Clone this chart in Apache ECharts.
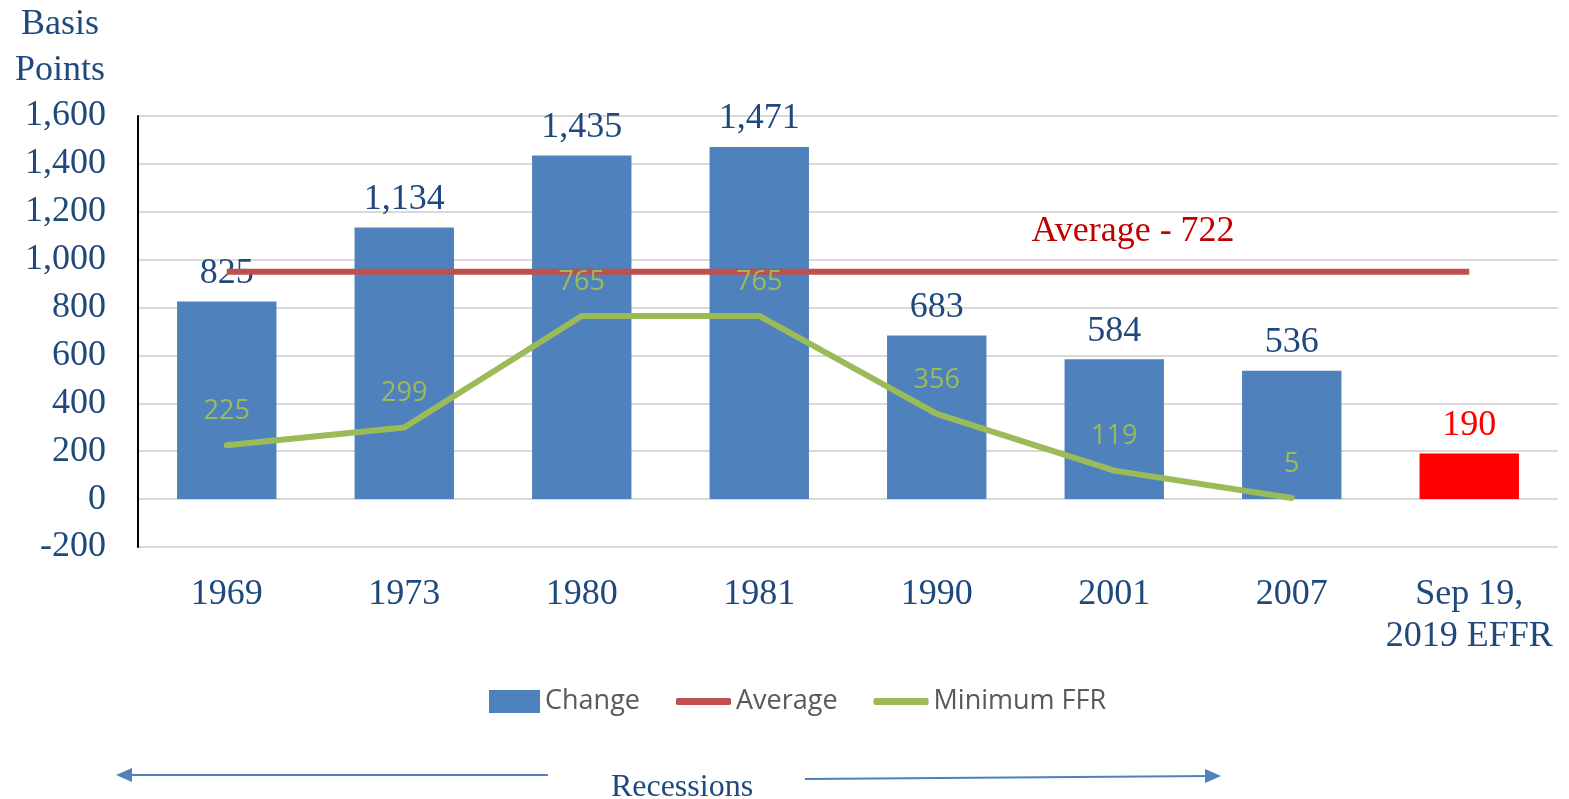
<!DOCTYPE html>
<html>
<head>
<meta charset="utf-8">
<script src="https://cdn.jsdelivr.net/npm/echarts@6/dist/echarts.min.js"></script>
<style>
  html, body { margin: 0; padding: 0; background: #fff; }
  #chart { width: 1569px; height: 799px; }
</style>
</head>
<body>
<div id="chart"></div>
<script>
// data
const categories = ['1969', '1973', '1980', '1981', '1990', '2001', '2007', 'Sep 19,\n2019 EFFR']
const changeValues = [825, 1134, 1435, 1471, 683, 584, 536, 190]
const averageValues = [950, 950, 950, 950, 950, 950, 950, 950]
const minimumFfr = [225, 299, 765, 765, 356, 119, 5, '-']
const yTicks = [-200, 0, 200, 400, 600, 800, 1000, 1200, 1400, 1600]

const navy = '#1F497D'
const serif = '"Liberation Serif", "Times New Roman", serif'
const sans = '"Open Sans", "Noto Sans", sans-serif'

const chart = echarts.init(document.getElementById('chart'))

const changeData = changeValues.map((v, i) => {
  const last = i === changeValues.length - 1
  return {
    value: v,
    itemStyle: {color: last ? '#FF0000' : '#4F81BD'},
    label: {color: last ? '#FF0000' : navy}
  }
})

const option = {
  animation: false,
  grid: {
    left: 138,
    right: 11,
    top: 116,
    bottom: 252,
    containLabel: false
  },
  legend: [
    {
      left: 489,
      top: 688,
      padding: 0,
      itemWidth: 51,
      itemHeight: 23,
      textStyle: {fontFamily: sans, fontSize: 27, color: '#595959'},
      data: [{name: 'Change', icon: 'rect'}]
    },
    {
      left: 676,
      top: 688,
      padding: 0,
      itemWidth: 55,
      itemHeight: 7,
      itemGap: 36,
      textStyle: {fontFamily: sans, fontSize: 27, color: '#595959'},
      data: [{name: 'Average', icon: 'roundRect'}, {name: 'Minimum FFR', icon: 'roundRect'}]
    }
  ],
  xAxis: {
    type: 'category',
    data: categories,
    axisLine: {show: false},
    axisTick: {show: false},
    axisLabel: {
      interval: 0,
      margin: 27,
      fontFamily: serif,
      fontSize: 36,
      lineHeight: 42,
      color: navy
    }
  },
  yAxis: {
    type: 'value',
    min: yTicks[0],
    max: yTicks[yTicks.length - 1],
    interval: 200,
    axisLine: {show: true, lineStyle: {color: '#000', width: 2}},
    axisTick: {show: false},
    splitLine: {lineStyle: {color: '#D9D9D9', width: 2}},
    axisLabel: {
      margin: 32,
      padding: [5, 0, 0, 0],
      fontFamily: serif,
      fontSize: 36,
      color: navy,
      formatter: (v) => v.toLocaleString('en-US')
    }
  },
  graphic: [
    {
      type: 'text',
      style: {
        text: 'Basis\nPoints',
        x: 60,
        y: 2,
        align: 'center',
        font: '36px ' + serif,
        lineHeight: 46,
        fill: navy
      }
    },
    {
      type: 'text',
      style: {
        text: 'Average - 722',
        x: 1133,
        y: 232,
        align: 'center',
        verticalAlign: 'middle',
        font: '36px ' + serif,
        fill: '#C00000'
      }
    },
    {
      type: 'text',
      style: {
        text: 'Recessions',
        x: 682,
        y: 788,
        align: 'center',
        verticalAlign: 'middle',
        font: '32px ' + serif,
        fill: navy
      }
    },
    {
      type: 'line',
      shape: {x1: 548, y1: 775, x2: 124, y2: 775},
      style: {stroke: '#4F81BD', lineWidth: 2}
    },
    {
      type: 'polygon',
      shape: {points: [[116, 775], [132, 768], [132, 782]]},
      style: {fill: '#4F81BD'}
    },
    {
      type: 'line',
      shape: {x1: 805, y1: 779, x2: 1212, y2: 776},
      style: {stroke: '#4F81BD', lineWidth: 2}
    },
    {
      type: 'polygon',
      shape: {points: [[1221, 776], [1205, 769], [1205, 783]]},
      style: {fill: '#4F81BD'}
    }
  ],
  series: [
    {
      name: 'Change',
      type: 'bar',
      data: changeData,
      barWidth: '56%',
      itemStyle: {color: '#4F81BD'},
      label: {
        show: true,
        position: 'top',
        distance: 10,
        fontFamily: serif,
        fontSize: 36,
        formatter: (p) => p.value.toLocaleString('en-US')
      },
      z: 1
    },
    {
      name: 'Average',
      type: 'line',
      data: averageValues,
      showSymbol: false,
      symbol: 'none',
      itemStyle: {color: '#C0504D'},
      lineStyle: {color: '#C0504D', width: 6},
      z: 3
    },
    {
      name: 'Minimum FFR',
      type: 'line',
      data: minimumFfr,
      symbol: 'circle',
      symbolSize: 1,
      itemStyle: {color: '#9BBB59'},
      lineStyle: {color: '#9BBB59', width: 6, cap: 'round'},
      label: {
        show: true,
        position: 'top',
        distance: 20,
        fontFamily: sans,
        fontSize: 27,
        color: '#9BBB59'
      },
      z: 4
    }
  ]
}

chart.setOption(option)
</script>
</body>
</html>
